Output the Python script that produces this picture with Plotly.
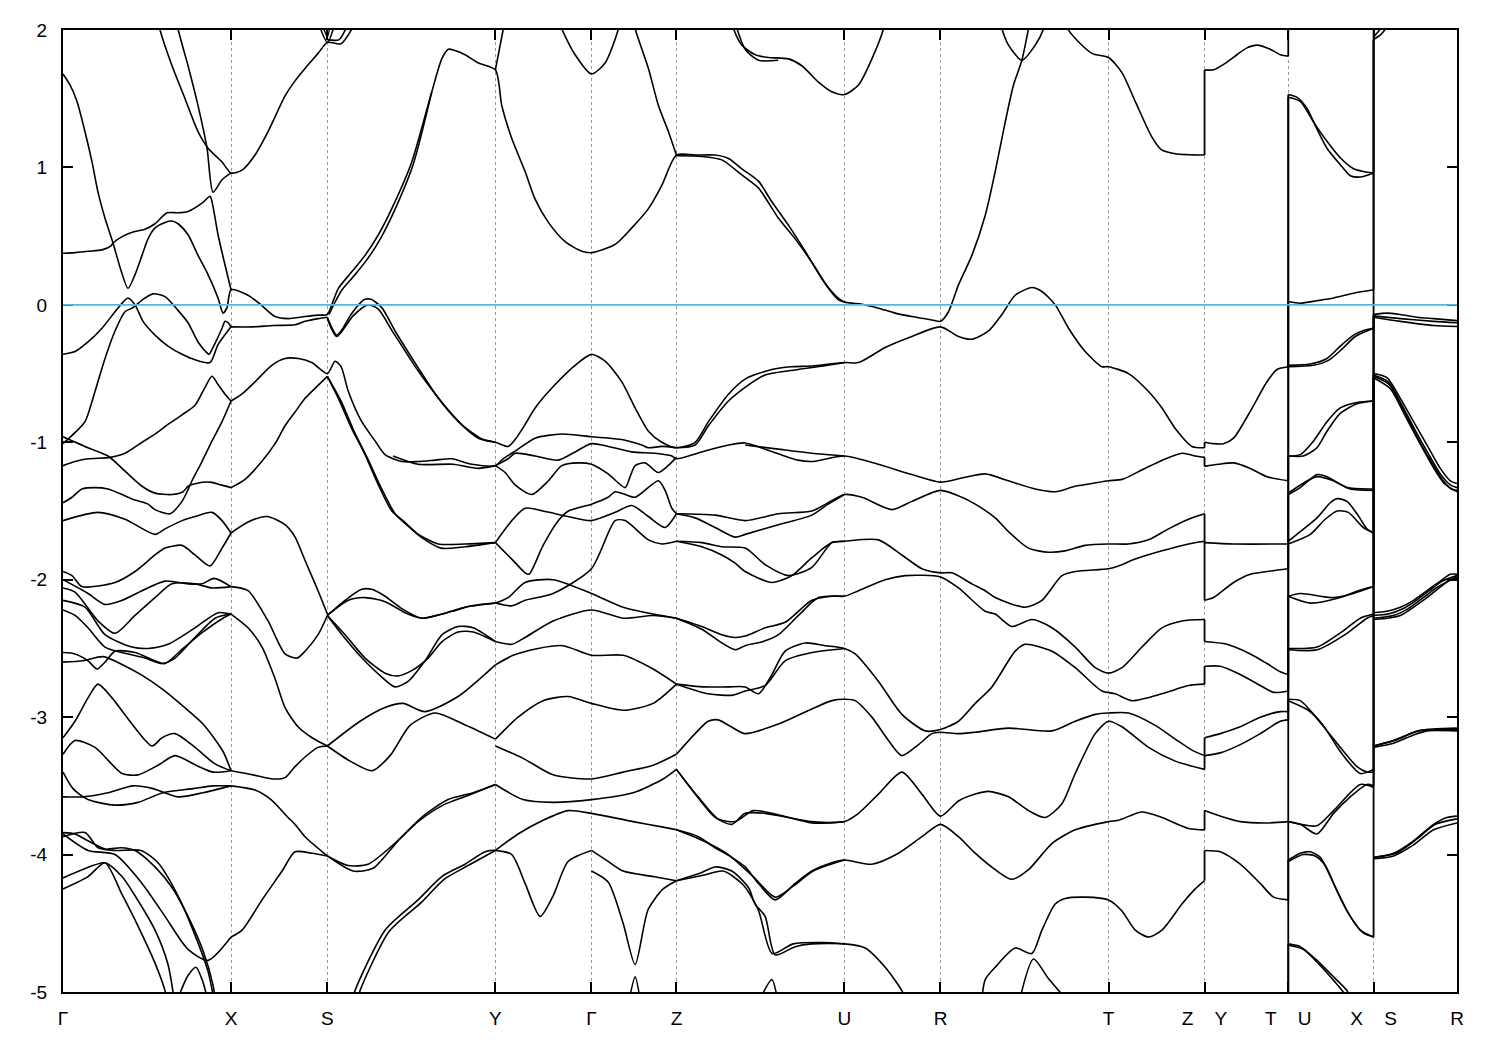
import plotly.graph_objects as go

# ---------------- path / labels ----------------
K_TICKS = [0, 168, 264.3, 432.3, 528.3, 613.3, 781.3, 877.3, 1045.3, 1141.3, 1225, 1310.3, 1393.7]
K_LABELS = ["Γ", "X", "S", "Y", "Γ", "Z", "U", "R", "T",
            "Z\u00a0\u00a0\u00a0\u00a0Y", "T\u00a0\u00a0\u00a0\u00a0U", "X\u00a0\u00a0\u00a0\u00a0S", "R"]
E_TICKS = [-5, -4, -3, -2, -1, 0, 1, 2]
E_FERMI = 0.0

# ---------------- upper bands (conduction + top valence) ----------------
cond_curves = [
    [[0,1.68],[7,1.60],[14,1.48],[22,1.26],[29,1.04],[35,0.82],[42,0.63],[50,0.45],[58,0.25],[65,0.12],
     [72,0.22],[79,0.36],[85,0.48],[92,0.56],[102,0.60],[109,0.61],[115,0.59],[125,0.51],[135,0.36],
     [145,0.22],[155,0.05],[160,-0.06],[164,-0.02],[168,0.11],[185,0.07],[198,0.0],[212,-0.085],
     [225,-0.10],[242,-0.085],[255,-0.075],[264.3,-0.07],[268.7,0.0],[275.3,0.12],[288.7,0.24],
     [302,0.36],[315.3,0.51],[328.7,0.70],[348.7,1.04],[368.7,1.55],[378.7,1.79],[385.3,1.86],
     [392,1.85],[402,1.82],[415.3,1.76],[432.3,1.71],[438.7,1.45],[448.7,1.21],[462,0.97],[472,0.77],
     [485.3,0.60],[502,0.46],[518.7,0.39],[528.3,0.38],[552,0.44],[568.7,0.56],[585.3,0.70],
     [598.7,0.87],[613.3,1.09],[632,1.09],[652,1.09],[665.3,1.065],[678.7,0.99],[695.3,0.90],
     [708.7,0.75],[725.3,0.58],[742,0.39],[758.7,0.19],[772,0.07],[781.3,0.02],[798.7,0.005],
     [815.3,-0.024],[832,-0.06],[848.7,-0.085],[868.7,-0.11],[877.3,-0.12],[885.3,-0.05],
     [895.3,0.145],[908.7,0.36],[922,0.65],[932,0.97],[942,1.33],[950.3,1.60],[958.7,1.78],
     [965.3,2.01],[968,2.1]],
    [[266,-0.07],[272,0.02],[279,0.11],[292,0.22],[305,0.34],[318,0.49],[331,0.68],[350,1.02],[368.7,1.55]],
    [[613.3,1.085],[638.7,1.08],[658.7,1.055],[678.7,0.945],[695.3,0.85],[715.3,0.63],[732,0.48],
     [748.7,0.31],[765.3,0.12],[775.3,0.036],[781.3,0.02]],
    [[0,0.375],[12,0.38],[25,0.39],[39,0.40],[48,0.43],[50,0.45],[60,0.50],[70,0.53],[82,0.55],
     [92,0.59],[104,0.67],[115,0.67],[125,0.68],[139,0.74],[147,0.79],[149,0.75],[155,0.51],
     [162,0.29],[168,0.11]],
    [[94,2.1],[97,2.0],[109,1.74],[122,1.50],[135,1.26],[145,1.14],[159,1.04],[168,0.96],[179,0.98],
     [192,1.09],[205,1.26],[222,1.52],[232,1.63],[242,1.72],[255,1.83],[264.3,1.91],[278,1.90],[292,2.05]],
    [[113,2.1],[115.3,2.0],[125,1.74],[135,1.45],[144,1.14],[150,0.82],[159,0.91],[168,0.96]],
    [[253,2.1],[264.3,1.91],[272,2.05]],
    [[257,2.1],[264.3,1.95],[268,2.1]],
    [[264.3,1.93],[276,1.93],[288,2.1]],
    [[496,2.1],[498.7,2.01],[512,1.82],[528.3,1.68],[542,1.76],[555.3,2.01],[557,2.1]],
    [[432.3,1.71],[436,1.85],[440,2.0],[442,2.1]],
    [[570,2.1],[572,2.01],[585.3,1.72],[595.3,1.45],[605.3,1.26],[613.3,1.09]],
    [[667,2.1],[670.3,2.01],[678.7,1.89],[692,1.82],[705,1.80],[725.3,1.79],[738.7,1.74],[755.3,1.62],
     [768.7,1.55],[781.3,1.53],[795.3,1.60],[808.7,1.79],[820.3,2.01],[822,2.1]],
    [[670,2.1],[682,1.86],[695.3,1.78],[715,1.78]],
    [[936,2.1],[938.7,2.01],[945.3,1.89],[958.7,1.78],[972,1.89],[980.3,2.01],[982,2.1]],
    [[1003,2.1],[1005.3,2.0],[1028.7,1.83],[1045.3,1.80],[1058.7,1.69],[1072,1.48],[1088.7,1.22],
     [1098,1.13],[1112,1.10],[1141.3,1.09]],
    [[1141.3,1.71],[1150.3,1.71],[1160.3,1.75],[1173.7,1.82],[1183.7,1.87],[1193.7,1.89],[1207,1.86],
     [1217,1.82],[1225,1.81]],
    [[1225,1.53],[1233.7,1.51],[1243.7,1.43],[1253.7,1.28],[1263.7,1.14],[1277,1.02],[1287,0.94],
     [1297,0.93],[1310.3,0.96]],
    [[1225,1.51],[1237,1.48],[1250.3,1.33],[1263.7,1.19],[1277,1.07],[1290.3,0.99],[1303.7,0.965],[1310.3,0.96]],
    [[1225,0.024],[1237,0.012],[1253.7,0.03],[1270.3,0.05],[1290.3,0.085],[1310.3,0.11]],
    [[1310.3,1.93],[1318,1.97],[1323,2.02],[1326,2.1]],
    [[1310.3,1.95],[1316,2.0],[1320,2.1]],
]

vb_top_curves = [
    [[0,-0.36],[12,-0.34],[25,-0.27],[39,-0.17],[52,-0.05],[60,0.02],[65,0.05],[72,0.0],[80,-0.12],
     [92,-0.22],[105,-0.30],[119,-0.36],[132,-0.40],[147,-0.42],[155,-0.29],[168,-0.16]],
    [[0,-1.01],[12,-0.93],[22,-0.85],[32,-0.63],[42,-0.39],[52,-0.19],[62,-0.05],[70,-0.02],[80,0.04],
     [90,0.08],[102,0.06],[115,-0.04],[125,-0.13],[135,-0.27],[144,-0.35],[146,-0.36],[152,-0.28],
     [159,-0.17],[162,-0.12],[165,-0.13],[168,-0.16]],
    [[168,-0.16],[190,-0.16],[210,-0.15],[232,-0.145],[242,-0.12],[255,-0.10],[264.3,-0.09]],
    [[264.3,-0.09],[269,-0.17],[273.7,-0.22],[278,-0.19],[288,-0.07],[298,0.02],[302,0.04],[308,0.04],
     [318.7,-0.02],[332,-0.19],[355.3,-0.46],[375.3,-0.68],[395.3,-0.85],[415.3,-0.97],[432.3,-1.0],
     [445,-1.03],[452,-0.98],[462,-0.87],[472,-0.75],[492,-0.58],[512,-0.44],[528.3,-0.36],[542,-0.41],
     [558.7,-0.56],[572,-0.75],[585.3,-0.92],[598.7,-1.0],[613.3,-1.04],[632,-1.0],[645.3,-0.85],
     [665.3,-0.65],[682,-0.54],[708.7,-0.47],[728,-0.45],[748.7,-0.445],[781.3,-0.42],[795.3,-0.42],
     [822,-0.31],[848.7,-0.23],[877.3,-0.16],[895.3,-0.23],[908.7,-0.25],[925.3,-0.19],[938.7,-0.07],
     [952,0.07],[968.7,0.126],[978.7,0.097],[992,0.0],[1005.3,-0.17],[1022,-0.34],[1038.7,-0.45],
     [1045.3,-0.45],[1065.3,-0.50],[1085.3,-0.63],[1098.7,-0.75],[1112,-0.90],[1128.7,-1.03],[1141.3,-1.04]],
    [[264.3,-0.10],[273.7,-0.23],[290,-0.08],[305,0.0],[315,-0.03],[330,-0.20],[355,-0.48],[380,-0.72],
     [400,-0.88],[420,-0.98],[432.3,-1.0]],
    [[613.3,-1.04],[632,-1.02],[645.3,-0.88],[665.3,-0.70],[682,-0.60],[702,-0.51],[735,-0.47],
     [765,-0.44],[781.3,-0.42]],
    [[168,-0.70],[178.7,-0.65],[192,-0.56],[208.7,-0.44],[222,-0.39],[235.3,-0.39],[248.7,-0.42],
     [264.3,-0.50],[272,-0.41],[278,-0.45],[285.3,-0.63],[298.7,-0.85],[312,-0.99],[322,-1.09],
     [338.7,-1.14],[355,-1.14],[372,-1.13],[388.7,-1.12],[408.7,-1.16],[432.3,-1.17],[440,-1.12],
     [448.7,-1.08],[455,-1.05],[472,-0.97],[498.7,-0.94],[528.3,-0.96],[558.7,-0.98],[578.7,-1.02],
     [585.3,-1.04],[598.7,-1.03],[613.3,-1.04]],
    [[330,-1.10],[355,-1.16],[390,-1.16],[415,-1.19],[432.3,-1.17]],
    [[432.3,-1.17],[445,-1.12],[452,-1.08],[472,-1.10],[495,-1.13],[512,-1.07],[528.3,-1.01],[545,-1.03],
     [568.7,-1.07],[592,-1.08],[608.7,-1.10],[613.3,-1.12],[638.7,-1.07],[665.3,-1.02],[682,-1.005],
     [702,-1.05],[735,-1.13],[748.7,-1.14],[781.3,-1.10],[815,-1.16],[848.7,-1.235],[877.3,-1.29],
     [898.7,-1.26],[922,-1.23],[945,-1.28],[972,-1.34],[992,-1.36],[1012,-1.32],[1029,-1.30],
     [1045,-1.28],[1059,-1.27],[1079,-1.20],[1099,-1.13],[1119,-1.08],[1132,-1.10],[1141.3,-1.11]],
    [[682,-1.02],[715,-1.05],[748.7,-1.08],[781.3,-1.10]],
    [[432.3,-1.17],[442,-1.22],[452,-1.31],[468.7,-1.38],[485.3,-1.28],[498.7,-1.17],[515,-1.15],[528.3,-1.16],
     [545,-1.23],[562,-1.33],[567,-1.25],[572,-1.17],[582,-1.15],[595,-1.22],[605,-1.17],[613.3,-1.11]],
    [[264.3,-0.52],[275.3,-0.68],[288.7,-0.90],[302,-1.09],[315.3,-1.31],[328.7,-1.50],[340,-1.57],
     [355.3,-1.67],[375.3,-1.74],[402,-1.74],[432.3,-1.73]],
    [[264.3,-0.52],[278,-0.70],[291,-0.92],[304,-1.11],[318,-1.33],[332,-1.52],[345,-1.61],[358,-1.69],
     [378,-1.77],[402,-1.76],[432.3,-1.73]],
    [[168,-1.33],[182,-1.27],[198.7,-1.14],[212,-1.01],[222,-0.88],[232,-0.78],[242,-0.68],[253,-0.60],[264.3,-0.52]],
    [[0,-1.17],[12,-1.14],[25,-1.12],[47,-1.11],[62,-1.08],[79,-1.00],[92,-0.94],[105,-0.87],[119,-0.80],
     [132,-0.73],[142,-0.60],[149,-0.52],[155,-0.58],[162,-0.65],[168,-0.70]],
    [[0,-0.96],[25,-1.04],[45,-1.10],[62,-1.21],[79,-1.32],[92,-1.37],[109,-1.38],[120,-1.36],[125,-1.32],
     [133,-1.30],[147,-1.29],[158,-1.31],[168,-1.33]],
    [[0,-1.44],[9,-1.40],[19,-1.34],[32,-1.33],[45,-1.34],[59,-1.38],[72,-1.42],[85,-1.45],[92,-1.49],
     [107,-1.52],[119,-1.43],[124,-1.36],[129,-1.28],[139,-1.14],[149,-0.99],[159,-0.85],[168,-0.70]],
    [[1141.3,-1.0],[1150,-1.01],[1160.3,-1.01],[1170.3,-0.97],[1187,-0.775],[1203.7,-0.56],[1213.7,-0.47],[1225,-0.45]],
    [[1141.3,-1.175],[1155,-1.16],[1170.3,-1.15],[1187,-1.19],[1203.7,-1.25],[1225,-1.28]],
    [[1225,-0.44],[1247,-0.43],[1263.7,-0.39],[1277,-0.30],[1290.3,-0.22],[1303.7,-0.18],[1310.3,-0.17]],
    [[1225,-0.45],[1250,-0.44],[1266,-0.40],[1279,-0.32],[1292,-0.23],[1310.3,-0.17]],
    [[1225,-1.10],[1237,-1.09],[1250.3,-0.99],[1263.7,-0.85],[1277,-0.75],[1293.7,-0.71],[1310.3,-0.70]],
    [[1225,-1.10],[1240,-1.10],[1253.7,-1.04],[1263.7,-0.92],[1277,-0.79],[1293.7,-0.72],[1310.3,-0.70]],
    [[1225,-1.38],[1237,-1.33],[1253.7,-1.235],[1263.7,-1.25],[1283.7,-1.33],[1310.3,-1.34]],
    [[1225,-1.37],[1253.7,-1.25],[1270,-1.28],[1287,-1.34],[1310.3,-1.35]],
    [[1310.3,-0.07],[1323.7,-0.06],[1337,-0.07],[1353.7,-0.09],[1370.3,-0.10],[1393.7,-0.115]],
    [[1310.3,-0.08],[1337,-0.10],[1370.3,-0.12],[1393.7,-0.13]],
    [[1310.3,-0.09],[1337,-0.12],[1370.3,-0.15],[1393.7,-0.157]],
    [[1310.3,-0.50],[1323.7,-0.53],[1337,-0.68],[1350.3,-0.85],[1363.7,-1.02],[1377,-1.19],[1387,-1.28],[1393.7,-1.30]],
    [[1310.3,-0.51],[1325,-0.56],[1338,-0.72],[1351,-0.90],[1364,-1.07],[1377,-1.23],[1387,-1.31],[1393.7,-1.33]],
    [[1310.3,-0.52],[1326,-0.58],[1340,-0.76],[1353,-0.95],[1366,-1.12],[1379,-1.27],[1388,-1.34],[1393.7,-1.35]],
    [[1310.3,-0.53],[1327,-0.61],[1342,-0.81],[1356,-1.00],[1369,-1.17],[1381,-1.30],[1393.7,-1.36]],
]

# ---------------- lower bands, left part (Gamma-X-S-Y-Gamma-Z) ----------------
gx_low = [
    [[0,-1.57],[35,-1.51],[62,-1.56],[92,-1.67],[102,-1.63],[119,-1.57],[132,-1.54],[149,-1.51],[159,-1.57],[168,-1.66]],
    [[0,-1.94],[9,-1.97],[19,-2.05],[52,-2.02],[72,-1.94],[92,-1.82],[102,-1.77],[119,-1.75],[132,-1.82],
     [147,-1.90],[159,-1.77],[168,-1.66]],
    [[0,-2.0],[25,-2.10],[42,-2.18],[59,-2.15],[79,-2.08],[102,-2.01],[125,-2.03],[139,-2.03],[151,-1.99],[168,-2.05]],
    [[0,-2.06],[12,-2.09],[35,-2.30],[52,-2.39],[72,-2.26],[92,-2.13],[109,-2.03],[132,-2.03],[149,-2.06],[168,-2.05]],
    [[0,-2.15],[22,-2.20],[42,-2.40],[69,-2.49],[85,-2.50],[105,-2.47],[132,-2.35],[155,-2.24],[168,-2.25]],
    [[0,-2.22],[12,-2.26],[25,-2.35],[42,-2.49],[59,-2.53],[82,-2.57],[99,-2.61],[112,-2.57],[132,-2.42],[152,-2.28],[168,-2.25]],
    [[0,-2.53],[12,-2.54],[25,-2.59],[34,-2.65],[42,-2.60],[52,-2.52],[72,-2.53],[92,-2.59],[102,-2.61],
     [120,-2.50],[140,-2.38],[160,-2.28],[168,-2.25]],
    [[0,-2.60],[20,-2.59],[40,-2.56],[60,-2.62],[80,-2.70],[100,-2.80],[120,-2.92],[140,-3.05],[160,-3.25],[168,-3.39]],
    [[0,-3.15],[12,-3.03],[25,-2.86],[35,-2.76],[49,-2.86],[69,-3.05],[89,-3.21],[99,-3.15],[112,-3.12],
     [132,-3.22],[152,-3.34],[168,-3.39]],
    [[0,-3.27],[12,-3.17],[32,-3.22],[59,-3.41],[75,-3.42],[95,-3.35],[112,-3.28],[133,-3.35],[150,-3.40],[168,-3.39]],
    [[0,-3.40],[10,-3.52],[25,-3.60],[52,-3.64],[75,-3.62],[100,-3.55],[130,-3.52],[150,-3.50],[168,-3.50]],
    [[0,-3.58],[20,-3.58],[45,-3.55],[70,-3.50],[90,-3.52],[115,-3.58],[140,-3.55],[168,-3.50]],
    [[0,-3.84],[12,-3.85],[25,-3.90],[42,-3.96],[58,-3.95],[72,-3.97],[92,-4.09],[110,-4.25],[125,-4.45],[140,-4.70],[150,-4.95],[153,-5.1]],
    [[0,-3.87],[22,-3.84],[35,-3.95],[52,-3.97],[78,-3.97],[95,-4.06],[115,-4.30],[130,-4.55],[145,-4.85],[152,-5.1]],
    [[0,-4.17],[19,-4.11],[42,-4.06],[59,-4.16],[72,-4.30],[92,-4.55],[105,-4.80],[112,-5.1]],
    [[0,-4.25],[25,-4.16],[42,-4.06],[59,-4.29],[75,-4.52],[92,-4.79],[102,-4.99],[105,-5.1]],
    [[0,-3.85],[25,-3.97],[52,-4.0],[79,-4.21],[102,-4.45],[125,-4.69],[145,-4.77],[168,-4.60]],
    [[112,-5.1],[125,-4.88],[133,-4.82],[140,-4.93],[146,-5.1]],
]

xsy_low = [
    [[168,-1.66],[185,-1.58],[204,-1.54],[222,-1.60],[232,-1.69],[242,-1.86],[255,-2.08],[264.3,-2.25]],
    [[168,-2.05],[185,-2.08],[205,-2.30],[222,-2.54],[234,-2.57],[242,-2.52],[255,-2.40],[264.3,-2.26]],
    [[168,-2.25],[185,-2.35],[199,-2.49],[212,-2.72],[222,-2.93],[235,-3.07],[249,-3.15],[264.3,-3.21]],
    [[168,-3.39],[190,-3.42],[210,-3.45],[222,-3.44],[232,-3.36],[242,-3.29],[255,-3.22],[264.3,-3.21]],
    [[168,-3.50],[192,-3.53],[208,-3.60],[225,-3.73],[232,-3.78],[242,-3.87],[264.3,-4.01]],
    [[168,-4.60],[179,-4.55],[199,-4.33],[219,-4.12],[232,-3.98],[249,-3.99],[264.3,-4.01]],
    [[264.3,-2.26],[282,-2.15],[298.7,-2.07],[308.7,-2.07],[322,-2.12],[338.7,-2.21],[358.7,-2.28],
     [378.7,-2.25],[402,-2.20],[432.3,-2.17]],
    [[264.3,-2.26],[285.3,-2.15],[302,-2.13],[322,-2.16],[342,-2.24],[358.7,-2.28],[388.7,-2.23],[408.7,-2.19],[432.3,-2.17]],
    [[264.3,-2.26],[279,-2.40],[299,-2.57],[319,-2.71],[332,-2.78],[345,-2.74],[362,-2.59],[379,-2.40],
     [395,-2.34],[410,-2.35],[432.3,-2.45]],
    [[264.3,-2.26],[282,-2.40],[302,-2.57],[322,-2.68],[335,-2.70],[349,-2.66],[365,-2.57],[379,-2.45],
     [395,-2.38],[410,-2.38],[432.3,-2.45]],
    [[264.3,-3.21],[287,-3.32],[309,-3.39],[327,-3.28],[347,-3.06],[372,-2.97],[400,-3.05],[432.3,-3.16]],
    [[264.3,-3.21],[297,-3.03],[322,-2.93],[340,-2.90],[362,-2.96],[395,-2.85],[432.3,-2.62]],
    [[264.3,-4.01],[290,-4.12],[310,-4.10],[335,-3.90],[360,-3.72],[385,-3.60],[410,-3.55],[432.3,-3.49]],
    [[264.3,-4.01],[285,-4.08],[305,-4.07],[330,-3.93],[355,-3.76],[380,-3.64],[405,-3.57],[432.3,-3.49]],
    [[290,-5.05],[292,-4.99],[322,-4.55],[355,-4.33],[378.7,-4.16],[402,-4.07],[422,-3.98],[432.3,-3.97],
     [448.7,-4.0],[462,-4.21],[477,-4.45],[490,-4.30],[505,-4.05],[528.3,-3.97]],
    [[295,-5.05],[297,-4.99],[326,-4.56],[358,-4.35],[381,-4.18],[405,-4.08],[432.3,-3.97]],
]

ygz_low = [
    [[432.3,-1.73],[448.7,-1.57],[462,-1.48],[480,-1.50],[505,-1.54],[528.3,-1.57],[552,-1.51],[568.7,-1.46],
     [585.3,-1.54],[602,-1.62],[613.3,-1.52]],
    [[432.3,-1.73],[448.7,-1.85],[462,-1.95],[466,-1.96],[480,-1.75],[495.3,-1.57],[505.3,-1.50],[528.3,-1.45],
     [545,-1.40],[552,-1.36],[562,-1.38],[572,-1.40],[595.3,-1.28],[602,-1.35],[608.7,-1.48],[613.3,-1.52]],
    [[432.3,-2.17],[448.7,-2.19],[462,-2.15],[490,-2.10],[528.3,-1.92],[552,-1.57],[562,-1.57],[585.3,-1.71],
     [598.7,-1.74],[613.3,-1.72]],
    [[432.3,-2.17],[445,-2.13],[462,-2.02],[490,-2.00],[528.3,-2.10],[560,-2.20],[590,-2.25],[613.3,-2.28]],
    [[432.3,-2.45],[448.7,-2.47],[462,-2.42],[490,-2.30],[528.3,-2.22],[560,-2.28],[590,-2.26],[613.3,-2.28]],
    [[432.3,-2.62],[450,-2.55],[475,-2.50],[500,-2.48],[528.3,-2.55],[560,-2.55],[590,-2.65],[613.3,-2.76]],
    [[432.3,-3.16],[455,-3.0],[480,-2.88],[505,-2.85],[528.3,-2.90],[560,-2.95],[590,-2.90],[613.3,-2.76]],
    [[432.3,-3.21],[460,-3.30],[490,-3.42],[528.3,-3.45],[560,-3.40],[590,-3.35],[613.3,-3.27]],
    [[432.3,-3.49],[460,-3.60],[490,-3.62],[528.3,-3.60],[570,-3.55],[600,-3.45],[613.3,-3.38]],
    [[432.3,-3.97],[455,-3.85],[480,-3.75],[505,-3.68],[528.3,-3.70],[570,-3.76],[600,-3.80],[613.3,-3.82]],
    [[528.3,-3.97],[545,-4.05],[560,-4.12],[590,-4.16],[613.3,-4.19]],
    [[528.3,-4.12],[545,-4.20],[560,-4.50],[572,-4.80],[585,-4.40],[600,-4.25],[613.3,-4.19]],
    [[565,-5.1],[572,-4.89],[578,-5.1]],
]

# ---------------- lower bands, Z-U-R-T-Z ----------------
zt_low = [
    [[613.3,-1.52],[652,-1.53],[682,-1.57],[715.3,-1.52],[748.7,-1.50],[765,-1.44],[781.3,-1.38],[798.7,-1.40],
     [828.7,-1.49],[848.7,-1.43],[877.3,-1.35],[898.7,-1.40],[912,-1.45],[932,-1.55],[945.3,-1.65],[965.3,-1.77],
     [985.3,-1.80],[1002,-1.79],[1022,-1.75],[1045.3,-1.74],[1065.3,-1.74],[1085.3,-1.71],[1105.3,-1.63],
     [1125.3,-1.56],[1141.3,-1.52]],
    [[613.3,-1.52],[632,-1.55],[652,-1.62],[672,-1.69],[682,-1.67],[715.3,-1.60],[748.7,-1.53],[765,-1.45],[781.3,-1.38]],
    [[613.3,-1.72],[638.7,-1.73],[658.7,-1.76],[682,-1.77],[702,-1.89],[725.3,-1.97],[748.7,-1.91],[768.7,-1.73],
     [781.3,-1.72],[815.3,-1.71],[838.7,-1.82],[858.7,-1.92],[877.3,-1.95],[888.7,-1.95],[908.7,-2.03],[922,-2.08],
     [932,-2.13],[962,-2.20],[978.7,-2.15],[998.7,-1.97],[1012,-1.94],[1045.3,-1.92],[1055.3,-1.90],[1072,-1.85],
     [1098.7,-1.79],[1125.3,-1.74],[1141.3,-1.72]],
    [[613.3,-1.72],[638.7,-1.76],[658.7,-1.82],[672,-1.88],[682,-1.94],[708.7,-2.02],[728.7,-1.97],[748.7,-1.84],
     [768.7,-1.73],[781.3,-1.72]],
    [[613.3,-2.28],[638.7,-2.34],[658.7,-2.40],[672,-2.42],[682,-2.41],[702,-2.35],[722,-2.31],[748.7,-2.15],
     [768.7,-2.12],[781.3,-2.12],[795.3,-2.08],[822,-2.0],[842,-1.97],[877.3,-1.98],[895.3,-2.06],[922,-2.23],
     [932,-2.25],[948.7,-2.34],[968.7,-2.29],[988.7,-2.35],[1012,-2.49],[1032,-2.64],[1045.3,-2.68],[1058.7,-2.64],
     [1078.7,-2.49],[1098.7,-2.35],[1118.7,-2.30],[1141.3,-2.29]],
    [[613.3,-2.28],[638.7,-2.36],[658.7,-2.46],[672,-2.51],[682,-2.48],[700,-2.45],[715.3,-2.40],[735.3,-2.26],
     [755.3,-2.13],[781.3,-2.12]],
    [[613.3,-2.76],[640,-2.78],[665,-2.78],[682,-2.78],[695.3,-2.83],[708,-2.70],[722,-2.52],[742,-2.46],
     [762,-2.48],[781.3,-2.50],[792,-2.54],[815.3,-2.74],[838.7,-2.98],[862,-3.10],[877.3,-3.09],[895.3,-3.03],
     [912,-2.90],[928.7,-2.78],[952,-2.52],[962,-2.47],[988.7,-2.52],[1012,-2.64],[1038.7,-2.81],[1052,-2.83],
     [1068.7,-2.88],[1098.7,-2.83],[1125.3,-2.77],[1141.3,-2.76]],
    [[613.3,-2.76],[645,-2.83],[670,-2.84],[682,-2.81],[702,-2.77],[722,-2.59],[748.7,-2.53],[781.3,-2.50]],
    [[613.3,-3.27],[632,-3.12],[645,-3.03],[655,-3.02],[668,-3.07],[682,-3.12],[715.3,-3.05],[748.7,-2.94],
     [768.7,-2.88],[781.3,-2.87],[792,-2.88],[808.7,-3.0],[825.3,-3.17],[838.7,-3.28],[855.3,-3.20],[868.7,-3.12],
     [877.3,-3.11],[895.3,-3.12],[912,-3.11],[945.3,-3.08],[988.7,-3.10],[1012,-3.03],[1032,-2.98],[1045.3,-2.97],
     [1065.3,-2.97],[1092,-3.06],[1112,-3.16],[1128.7,-3.24],[1141.3,-3.28]],
    [[613.3,-3.38],[632,-3.56],[652,-3.73],[668.7,-3.78],[682,-3.70],[702,-3.70],[748.7,-3.76],[781.3,-3.76],
     [795.3,-3.70],[815.3,-3.56],[838.7,-3.40],[858.7,-3.56],[877.3,-3.72],[895.3,-3.61],[912,-3.56],[925.3,-3.54],
     [945.3,-3.58],[965.3,-3.68],[982,-3.73],[998.7,-3.63],[1012,-3.41],[1032,-3.12],[1045.3,-3.03],[1058.7,-3.07],
     [1085.3,-3.22],[1112,-3.32],[1141.3,-3.38]],
    [[613.3,-3.38],[635,-3.58],[655,-3.74],[672,-3.76],[690,-3.68],[715,-3.71],[748.7,-3.77],[781.3,-3.76]],
    [[613.3,-3.82],[635.3,-3.87],[652,-3.95],[668.7,-4.02],[682,-4.09],[695.3,-4.21],[712,-4.33],[732,-4.21],
     [748.7,-4.12],[768.7,-4.06],[781.3,-4.04],[808.7,-4.07],[835.3,-3.99],[858.7,-3.87],[877.3,-3.78],[895.3,-3.87],
     [912,-3.99],[932,-4.11],[948.7,-4.18],[965.3,-4.11],[988.7,-3.92],[1012,-3.82],[1045.3,-3.76],[1055.3,-3.75],
     [1078.7,-3.69],[1098.7,-3.73],[1125.3,-3.81],[1141.3,-3.82]],
    [[613.3,-3.82],[640,-3.90],[665,-4.00],[690,-4.16],[712,-4.31],[730,-4.23],[750,-4.12],[781.3,-4.04]],
    [[613.3,-4.19],[635.3,-4.14],[652,-4.09],[668.7,-4.12],[685.3,-4.24],[692,-4.36],[702,-4.45],[712,-4.73],
     [732,-4.67],[748.7,-4.65],[781.3,-4.65],[802,-4.68],[822,-4.82],[838.7,-4.99],[845,-5.1]],
    [[613.3,-4.19],[640,-4.15],[660,-4.12],[680,-4.22],[695,-4.40],[709,-4.72],[730,-4.65],[760,-4.64],[781.3,-4.65]],
    [[695,-5.08],[708.7,-4.91],[715,-5.08]],
    [[918,-5.1],[922,-4.91],[932,-4.82],[952,-4.68],[968.7,-4.72],[978.7,-4.55],[992,-4.36],[1002,-4.32],
     [1022,-4.31],[1045.3,-4.33],[1058.7,-4.41],[1072,-4.55],[1085.3,-4.60],[1098.7,-4.55],[1118.7,-4.36],
     [1132,-4.25],[1141.3,-4.19]],
    [[955,-5.1],[970.3,-4.76],[985,-4.90],[1008.7,-5.1]],
]

# ---------------- lower bands, Y-T | U-X | S-R ----------------
right_low = [
    [[1141.3,-1.73],[1170.3,-1.74],[1225,-1.74]],
    [[1141.3,-2.15],[1150.3,-2.13],[1170.3,-2.02],[1187,-1.96],[1203.7,-1.94],[1225,-1.92]],
    [[1141.3,-2.45],[1163.7,-2.47],[1187,-2.54],[1203.7,-2.61],[1217,-2.67],[1225,-2.69]],
    [[1141.3,-2.63],[1157,-2.63],[1177,-2.69],[1197,-2.77],[1210.3,-2.82],[1225,-2.81]],
    [[1141.3,-3.15],[1157,-3.12],[1177,-3.07],[1197,-3.0],[1217,-2.96],[1225,-2.96]],
    [[1141.3,-3.28],[1157,-3.26],[1177,-3.20],[1197,-3.12],[1217,-3.03],[1225,-3.02]],
    [[1141.3,-3.68],[1157,-3.72],[1177,-3.76],[1203.7,-3.77],[1225,-3.76]],
    [[1141.3,-3.97],[1157,-3.98],[1177,-4.07],[1197,-4.21],[1210.3,-4.31],[1225,-4.33]],
    [[1225,-1.72],[1237,-1.65],[1253.7,-1.55],[1267,-1.44],[1274,-1.41],[1283.7,-1.43],[1293.7,-1.52],[1303.7,-1.63],[1310.3,-1.66]],
    [[1225,-1.74],[1247,-1.67],[1262,-1.56],[1274,-1.50],[1285,-1.51],[1300,-1.62],[1310.3,-1.66]],
    [[1225,-2.12],[1237,-2.10],[1270,-2.13],[1290,-2.10],[1310.3,-2.05]],
    [[1225,-2.12],[1247,-2.17],[1277,-2.13],[1295,-2.08],[1310.3,-2.05]],
    [[1225,-2.50],[1253.7,-2.49],[1280.3,-2.37],[1297,-2.28],[1310.3,-2.25]],
    [[1225,-2.51],[1253.7,-2.51],[1283.7,-2.39],[1303.7,-2.28],[1310.3,-2.26]],
    [[1225,-2.87],[1237,-2.88],[1250.3,-2.98],[1263.7,-3.10],[1277,-3.22],[1293.7,-3.36],[1303.7,-3.40],[1310.3,-3.40]],
    [[1225,-2.88],[1245,-2.95],[1260,-3.06],[1277,-3.25],[1297,-3.41],[1310.3,-3.38]],
    [[1225,-3.76],[1237,-3.78],[1253.7,-3.85],[1270.3,-3.70],[1287,-3.58],[1303.7,-3.49],[1310.3,-3.50]],
    [[1225,-3.76],[1253.7,-3.79],[1270.3,-3.68],[1297,-3.49],[1310.3,-3.51]],
    [[1225,-4.04],[1237,-3.99],[1247,-3.98],[1257,-4.02],[1270.3,-4.21],[1283.7,-4.41],[1297,-4.55],[1310.3,-4.60]],
    [[1225,-4.05],[1240,-4.00],[1252,-4.01],[1262,-4.08],[1274,-4.27],[1287,-4.45],[1300,-4.57],[1310.3,-4.60]],
    [[1225,-4.65],[1237,-4.67],[1253.7,-4.77],[1270.3,-4.89],[1283.7,-4.99],[1290,-5.1]],
    [[1225,-4.66],[1240,-4.69],[1256,-4.80],[1272,-4.93],[1282,-5.02],[1288,-5.1]],
    [[1310.3,-2.24],[1323.7,-2.23],[1337,-2.20],[1350.3,-2.15],[1363.7,-2.08],[1377,-2.01],[1387,-1.96],[1393.7,-1.96]],
    [[1310.3,-2.26],[1325,-2.25],[1340,-2.21],[1353,-2.15],[1366,-2.08],[1379,-2.01],[1393.7,-1.97]],
    [[1310.3,-2.28],[1330,-2.26],[1345,-2.21],[1360,-2.13],[1375,-2.05],[1393.7,-1.98]],
    [[1310.3,-2.29],[1337,-2.26],[1363.7,-2.13],[1387,-2.0],[1393.7,-1.99]],
    [[1310.3,-3.21],[1330.3,-3.17],[1350.3,-3.11],[1363.7,-3.09],[1393.7,-3.09]],
    [[1310.3,-3.22],[1330.3,-3.19],[1350.3,-3.13],[1363.7,-3.10],[1393.7,-3.10]],
    [[1310.3,-3.21],[1335,-3.16],[1355,-3.10],[1393.7,-3.08]],
    [[1310.3,-4.02],[1330.3,-3.99],[1350.3,-3.90],[1370.3,-3.78],[1383.7,-3.73],[1393.7,-3.72]],
    [[1310.3,-4.03],[1330.3,-4.01],[1350.3,-3.93],[1370.3,-3.82],[1393.7,-3.77]],
    [[1310.3,-4.02],[1333,-3.99],[1353,-3.89],[1372,-3.78],[1393.7,-3.74]],
]

# ---------------- band jumps at the path discontinuities (left value, right value) ----------------
jumps_ZY = [(1.09, 1.71), (-1.04, -1.0), (-1.11, -1.175), (-1.52, -2.15), (-1.72, -1.73), (-2.29, -2.45),
            (-2.76, -2.63), (-3.28, -3.28), (-3.38, -3.15), (-3.82, -3.68), (-4.19, -3.97)]
jumps_TU = [(1.81, 2.3), (-0.45, 1.53), (-0.45, 1.51), (-1.28, 0.024), (-1.74, -0.44), (-1.92, -1.10),
            (-2.69, -1.38), (-2.81, -1.72), (-2.96, -2.12), (-3.02, -2.50), (-3.76, -2.87), (-4.33, -3.76),
            (-5.3, -4.04), (-5.5, -4.65)]
jumps_XS = [(0.96, 2.2), (0.11, 1.93), (-0.17, 1.93), (-0.70, -0.07), (-1.34, -0.08), (-1.66, -0.09),
            (-2.05, -0.50), (-2.25, -0.51), (-3.40, -0.52), (-3.50, -0.53), (-4.60, -2.24)]

# ---------------- build figure ----------------
fig = go.Figure()

def add_group(curves):
    xs, ys = [], []
    for c in curves:
        xs += [p[0] for p in c] + [None]
        ys += [p[1] for p in c] + [None]
    fig.add_trace(go.Scatter(x=xs, y=ys, mode="lines", hoverinfo="skip", showlegend=False,
                             line=dict(color="black", width=1.6, shape="spline", smoothing=0.7),
                             connectgaps=False))

for grp in [cond_curves, vb_top_curves, gx_low, xsy_low, ygz_low, zt_low, right_low]:
    add_group(grp)

jx, jy = [], []
for kpos, jl in [(K_TICKS[9], jumps_ZY), (K_TICKS[10], jumps_TU), (K_TICKS[11], jumps_XS)]:
    for a, b in jl:
        jx += [kpos, kpos, None]
        jy += [a, b, None]
fig.add_trace(go.Scatter(x=jx, y=jy, mode="lines", hoverinfo="skip", showlegend=False,
                         line=dict(color="black", width=1.8)))

fig.add_hline(y=E_FERMI, line=dict(color="#56b4e9", width=1.6))

# page body has an 8px default margin, so the figure is sized/offset to land the plot frame
fig.update_layout(
    width=1492, height=1042,
    margin=dict(l=55, r=43, t=20, b=58),
    paper_bgcolor="white", plot_bgcolor="white",
    font=dict(family="Liberation Sans, Arial, sans-serif", size=19, color="black"),
)
fig.update_xaxes(range=[0, K_TICKS[-1]], tickvals=K_TICKS, ticktext=K_LABELS,
                 showgrid=True, gridcolor="#9a9a9a", griddash="dot", gridwidth=1,
                 ticks="inside", ticklen=10, tickwidth=1.5, tickcolor="black",
                 showline=True, linecolor="black", linewidth=2, mirror="ticks",
                 zeroline=False, ticklabelstandoff=8)
fig.update_yaxes(range=[-5, 2], tickvals=E_TICKS, ticktext=[str(v) for v in E_TICKS],
                 showgrid=False, ticks="inside", ticklen=10, tickwidth=1.5, tickcolor="black",
                 showline=True, linecolor="black", linewidth=2, mirror="ticks",
                 zeroline=False, ticklabelstandoff=10)

fig.write_html("out.html")
